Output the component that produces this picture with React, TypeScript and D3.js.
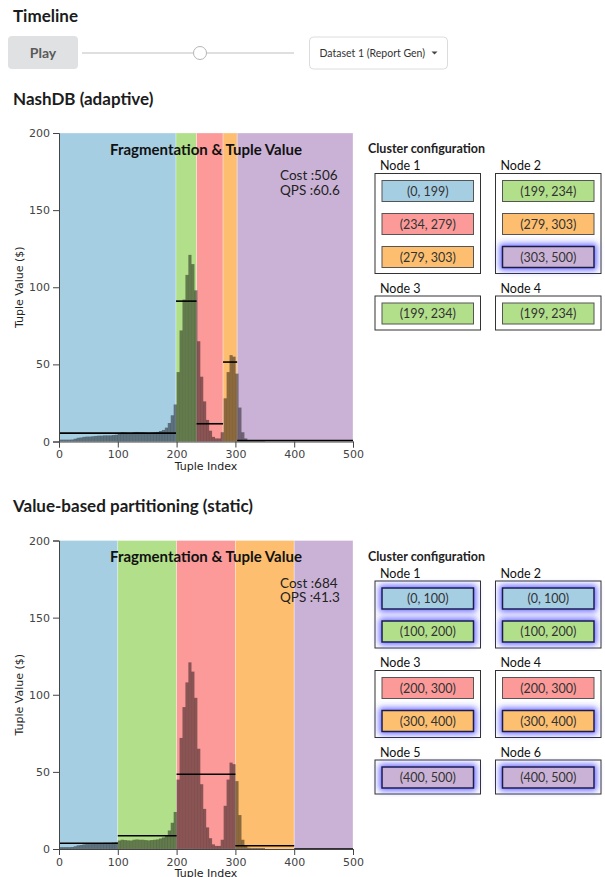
import React, { useRef, useEffect } from "react";
import * as d3 from "d3";

// tuple value per bin of 5 tuple indices (0, 5, 10, ... 495)
const BIN = 5;
const tupleValues = [
  1.2, 1.2, 1.2, 1.2, 1.3, 1.8, 2.4, 2.6, 3.0, 3.2,
  3.2, 3.4, 3.6, 3.8, 3.8, 4.0, 4.0, 4.0, 4.2, 4.4,
  5.5, 6.0, 5.8, 5.6, 5.5, 6.0, 6.2, 6.0, 6.0, 5.8,
  5.6, 5.8, 6.0, 6.2, 6.8, 7.5, 9, 12, 17, 24,
  45, 72, 92, 108, 121, 115, 98, 65, 42, 26,
  14, 7, 3, 2, 2, 6, 28, 45, 56, 55,
  44, 22, 6, 2, 0.8, 0.6, 0.6, 0.6, 0.6, 0.6,
  0, 0, 0, 0, 0, 0, 0, 0, 0, 0,
  0, 0, 0, 0, 0, 0, 0, 0, 0, 0,
  0, 0, 0, 0, 0, 0, 0, 0, 0, 0,
];

const fragmentColors = ["#a6cee3", "#b2df8a", "#fb9a99", "#fdbf6f", "#cab2d6"];
const xTicks = [0, 100, 200, 300, 400, 500];
const yTicks = [0, 50, 100, 150, 200];

const adaptiveBounds = [0, 199, 234, 279, 303, 500];
const adaptiveMeans = [5.4, 91, 11.5, 51.5, 0.6];
const adaptiveCost = 506;
const adaptiveQps = 60.6;

const staticBounds = [0, 100, 200, 300, 400, 500];
const staticMeans = [3.7, 8.6, 48.5, 2.1, 0];
const staticCost = 684;
const staticQps = 41.3;

type NodeCfg = { name: string; frags: number[]; hot: boolean[] };

const adaptiveNodes: NodeCfg[] = [
  { name: "Node 1", frags: [0, 2, 3], hot: [false, false, false] },
  { name: "Node 2", frags: [1, 3, 4], hot: [false, false, true] },
  { name: "Node 3", frags: [1], hot: [false] },
  { name: "Node 4", frags: [1], hot: [false] },
];

const staticNodes: NodeCfg[] = [
  { name: "Node 1", frags: [0, 1], hot: [true, true] },
  { name: "Node 2", frags: [0, 1], hot: [true, true] },
  { name: "Node 3", frags: [2, 3], hot: [false, true] },
  { name: "Node 4", frags: [2, 3], hot: [false, true] },
  { name: "Node 5", frags: [4], hot: [true] },
  { name: "Node 6", frags: [4], hot: [true] },
];

const LATO = "Lato, 'Open Sans', sans-serif";
const PLOT_LEFT = 59;
const PLOT_RIGHT = 353;
const PLOT_H = 308.5;

function FragmentChart({ top, bounds, means, cost, qps }: {
  top: number; bounds: number[]; means: number[]; cost: number; qps: number;
}) {
  const xRef = useRef<SVGGElement>(null);
  const yRef = useRef<SVGGElement>(null);
  const x = d3.scaleLinear().domain([0, 500]).range([PLOT_LEFT, PLOT_RIGHT]);
  const y = d3.scaleLinear().domain([0, 200]).range([top + PLOT_H, top]);

  useEffect(() => {
    if (!xRef.current || !yRef.current) return;
    const gx = d3.select(xRef.current);
    gx.call(d3.axisBottom(x).tickValues(xTicks).tickFormat(d3.format("d")));
    const gy = d3.select(yRef.current);
    gy.call(d3.axisLeft(y).tickValues(yTicks).tickFormat(d3.format("d")));
    [gx, gy].forEach((g) =>
      g.attr("font-family", "'DejaVu Sans', sans-serif").attr("font-size", 11)
        .style("color", "#444")
    );
  }, [top]);

  const bw = x(BIN) - x(0);

  return (
    <g>
      {bounds.slice(0, -1).map((b, i) => (
        <rect key={"f" + i} x={x(b)} y={y(200)} width={x(bounds[i + 1]) - x(b)}
          height={y(0) - y(200)} fill={fragmentColors[i]}
          stroke="#fff" strokeOpacity={0.5} strokeWidth={0.6} />
      ))}
      {tupleValues.map((v, i) => (
        <rect key={"b" + i} x={x(i * BIN)} width={bw + 0.2} y={y(v)}
          height={y(0) - y(v)} fill="#000" fillOpacity={0.45} />
      ))}
      {means.map((m, i) => (
        <line key={"m" + i} x1={x(bounds[i])} x2={x(bounds[i + 1])} y1={y(m)} y2={y(m)}
          stroke="#000" strokeWidth={1.6} />
      ))}
      <g ref={xRef} transform={`translate(0,${y(0)})`} />
      <g ref={yRef} transform={`translate(${PLOT_LEFT},0)`} />
      <text x={(PLOT_LEFT + PLOT_RIGHT) / 2} y={y(0) + 28} textAnchor="middle"
        fontFamily="'DejaVu Sans', sans-serif" fontSize={11} fill="#222">Tuple Index</text>
      <text transform={`translate(23,${y(100)}) rotate(-90)`} textAnchor="middle"
        fontFamily="'DejaVu Sans', sans-serif" fontSize={11} fill="#222">Tuple Value ($)</text>
      <text x={(PLOT_LEFT + PLOT_RIGHT) / 2} y={top + 21.5} textAnchor="middle"
        fontFamily={LATO} fontWeight={700} fontSize={15} fill="#111">
        Fragmentation &amp; Tuple Value
      </text>
      <text x={280} y={top + 47} fontFamily={LATO} fontSize={13.5} fill="#222">Cost :{cost}</text>
      <text x={280} y={top + 61.5} fontFamily={LATO} fontSize={13.5} fill="#222">QPS :{qps}</text>
    </g>
  );
}

function ClusterConfig({ top, bounds, nodes }: { top: number; bounds: number[]; nodes: NodeCfg[] }) {
  const colX = [375, 495.5];
  const boxW = 105.5;
  const rectH = 21;
  const gap = 12;
  const boxH = (n: number) => 13 + n * rectH + (n - 1) * gap;
  const rows: NodeCfg[][] = d3.range(0, nodes.length, 2).map((i) => nodes.slice(i, i + 2));
  let labelY = top + 37;
  const out: React.ReactNode[] = [];
  rows.forEach((row, r) => {
    const boxTop = labelY + 3.5;
    const h = boxH(d3.max(row, (n) => n.frags.length) as number);
    row.forEach((node, c) => {
      const bx = colX[c];
      out.push(
        <g key={`${r}-${c}`}>
          <text x={bx + 5} y={labelY} fontFamily={LATO} fontSize={12.5} fill="#111">{node.name}</text>
          <rect x={bx} y={boxTop} width={boxW} height={h} fill="#fff" stroke="#333" strokeWidth={1} />
          {node.frags.map((f, k) => {
            const ry = boxTop + 7 + k * (rectH + gap);
            return (
              <g key={k}>
                <rect x={bx + 7} y={ry} width={boxW - 14} height={rectH} fill={fragmentColors[f]}
                  stroke={node.hot[k] ? "#1c1c4a" : "#555"} strokeWidth={node.hot[k] ? 1.5 : 1}
                  filter={node.hot[k] ? "url(#glow)" : undefined} />
                <text x={bx + boxW / 2} y={ry + rectH / 2 + 4.5} textAnchor="middle"
                  fontFamily={LATO} fontSize={12.5} fill="#333">
                  ({bounds[f]}, {bounds[f + 1]})
                </text>
              </g>
            );
          })}
        </g>
      );
    });
    labelY = boxTop + h + 19;
  });
  return (
    <g>
      <text x={368} y={top + 20} fontFamily={LATO} fontWeight={700} fontSize={12.5} fill="#222">
        Cluster configuration
      </text>
      {out}
    </g>
  );
}

export default function App() {
  const headStyle = { fontFamily: LATO, fontWeight: 700, fontSize: 17, fill: "#1b1c1d" } as const;
  return (
    <svg width={605} height={877} style={{ position: "absolute", left: 0, top: 0 }}>
      <defs>
        <filter id="glow" x="-30%" y="-80%" width="160%" height="260%">
          <feMorphology in="SourceAlpha" operator="dilate" radius="1.5" result="d" />
          <feGaussianBlur in="d" stdDeviation="3" result="b" />
          <feFlood floodColor="#3a3aff" floodOpacity="0.75" />
          <feComposite in2="b" operator="in" result="g" />
          <feMerge>
            <feMergeNode in="g" />
            <feMergeNode in="SourceGraphic" />
          </feMerge>
        </filter>
      </defs>
      <rect width={605} height={877} fill="#fff" />

      <text x={13} y={22} {...headStyle}>Timeline</text>
      <rect x={8} y={36} width={70} height={33} rx={4} fill="#e0e1e2" />
      <text x={43} y={58} textAnchor="middle" fontFamily={LATO} fontWeight={700} fontSize={14}
        fill="#5a5a5a">Play</text>
      <line x1={82} x2={294} y1={53} y2={53} stroke="#d4d4d4" strokeWidth={1.5} />
      <circle cx={200} cy={53} r={6.5} fill="#fff" stroke="#b5b5b5" strokeWidth={1} />
      <rect x={309.5} y={37} width={138} height={32} rx={4} fill="#fff" stroke="#dcdcdc" />
      <text x={319.5} y={56.5} fontFamily={LATO} fontSize={10.5} fill="#333">Dataset 1 (Report Gen)</text>
      <path d="M431.5,51.5 L437.5,51.5 L434.5,54.5 Z" fill="#444" />

      <text x={13} y={105} {...headStyle}>NashDB (adaptive)</text>
      <FragmentChart top={133} bounds={adaptiveBounds} means={adaptiveMeans}
        cost={adaptiveCost} qps={adaptiveQps} />
      <ClusterConfig top={133} bounds={adaptiveBounds} nodes={adaptiveNodes} />

      <text x={13} y={512} {...headStyle}>Value-based partitioning (static)</text>
      <FragmentChart top={540.5} bounds={staticBounds} means={staticMeans}
        cost={staticCost} qps={staticQps} />
      <ClusterConfig top={540.5} bounds={staticBounds} nodes={staticNodes} />
    </svg>
  );
}
